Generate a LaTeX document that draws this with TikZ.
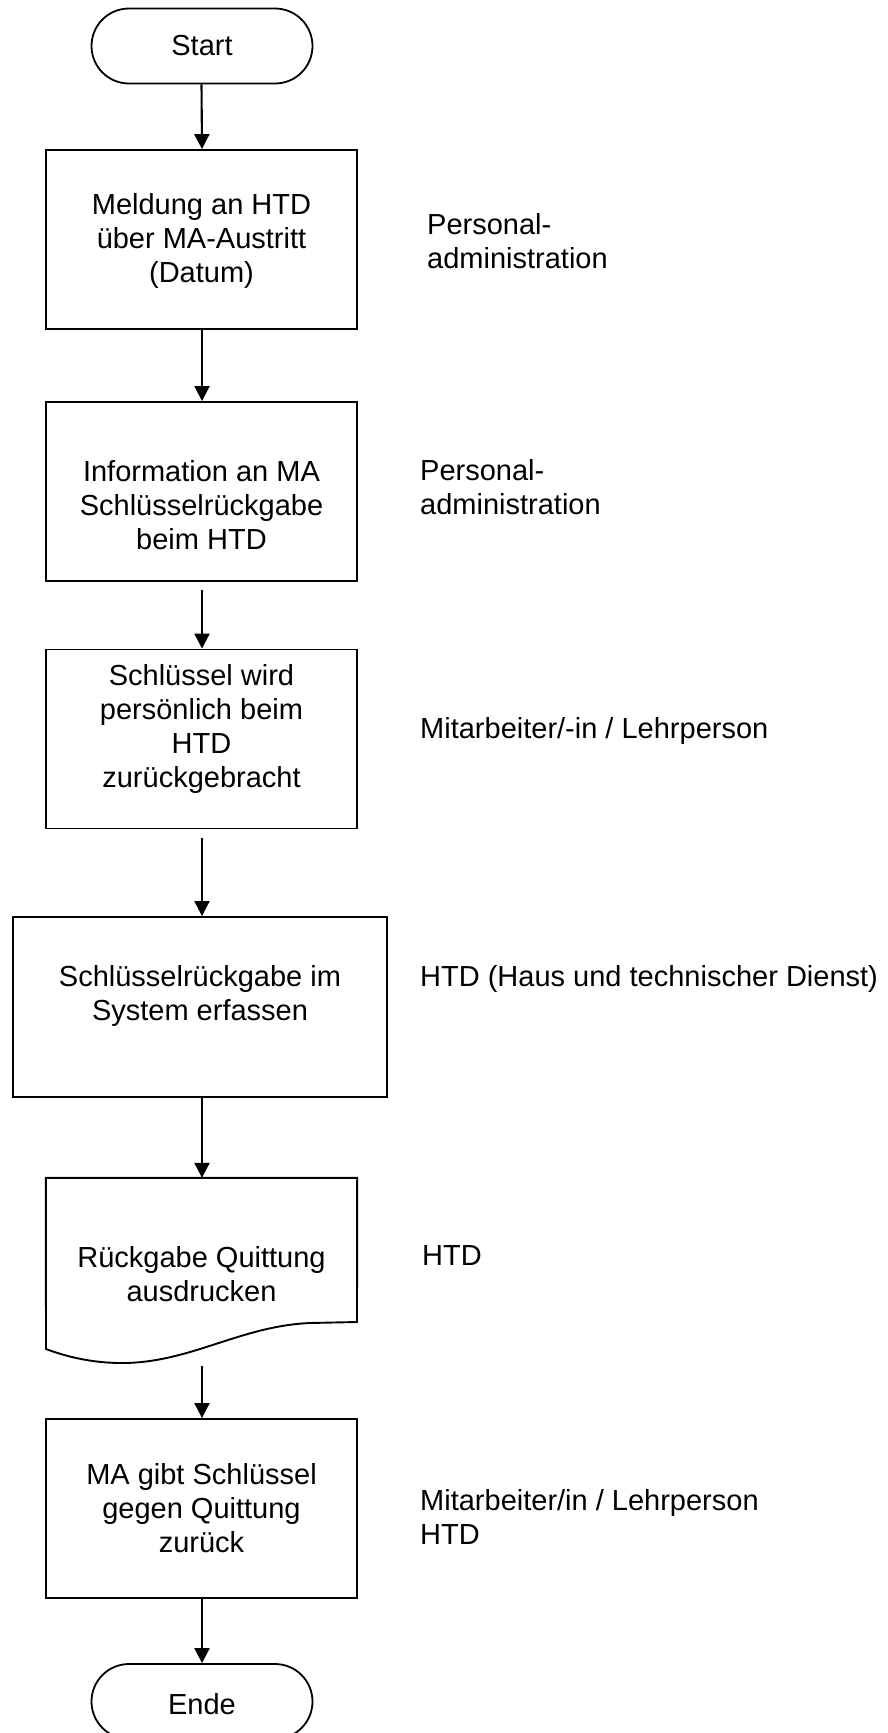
\documentclass[tikz,border=0pt]{standalone}
\usepackage{fontspec}
\setmainfont{Liberation Sans}
\usetikzlibrary{arrows.meta,shapes.misc}
\begin{document}
\begin{tikzpicture}[x=1pt,y=-1pt,
  every node/.style={font=\fontsize{29}{34}\selectfont, inner sep=0pt},
  term/.style={draw, line width=1.8pt, rounded rectangle, minimum width=221pt, minimum height=75pt},
  box/.style={draw, line width=1.9pt, minimum width=311pt, minimum height=179pt},
  txt/.style={align=center},
  lbl/.style={align=left, anchor=west},
  arr/.style={line width=2.1pt, -{Triangle[length=15pt,width=15pt]}}
]
\useasboundingbox (0,0) rectangle (887,1733);
\fill[white] (0,0) rectangle (887,1733);

\node[term] (start) at (202,46) {};
\node (tstart) at (202,46) {Start};

\node[box] (b1) at (201.5,239.5) {};
\node[txt] (t1) at (201.5,241) {Meldung an HTD\\über MA-Austritt\\(Datum)};

\node[box] (b2) at (201.5,491.5) {};
\node[txt] (t2) at (201.5,505) {Information an MA\\Schlüsselrückgabe\\beim HTD};

\node[box] (b3) at (201.5,739) {};
\node[txt] (t3) at (201.5,729) {Schlüssel wird\\persönlich beim\\HTD\\zurückgebracht};

\node[box, minimum width=374pt, minimum height=180pt] (b4) at (200,1007) {};
\node[txt] (t4) at (200,996) {Schlüsselrückgabe im\\System erfassen};

\node[minimum width=311pt, minimum height=182pt] (b5) at (201.5,1269) {};
\draw[line width=1.9pt] (b5.north west) -- (b5.north east) -- (357,1322) -- (310,1323)
  .. controls (240,1326) and (190,1363) .. (122,1363)
  .. controls (95,1363) and (70,1358) .. (46,1349) -- cycle;
\node[txt] (t5) at (201.5,1274) {Rückgabe Quittung\\ausdrucken};

\node[box] (b6) at (201.5,1508.5) {};
\node[txt] (t6) at (201.5,1508) {MA gibt Schlüssel\\gegen Quittung\\zurück};

\node[term] (ende) at (202,1701.5) {};
\node (tende) at (202,1704) {Ende};

\node[lbl] (l1) at (427,241) {Personal-\\administration};
\node[lbl] (l2) at (420,487) {Personal-\\administration};
\node[lbl] (l3) at (420,731) {Mitarbeiter/-in / Lehrperson};
\node[lbl] (l4) at (420,979) {HTD (Haus und technischer Dienst)};
\node[lbl] (l5) at (422,1256) {HTD};
\node[lbl] (l6) at (420,1517) {Mitarbeiter/in / Lehrperson\\HTD};

\draw[arr] (start.south -| b1.north) -- (b1.north -| start.south);
\draw[arr] (b1.south -| start.south) -- (b2.north -| start.south);
\draw[arr, shorten <=8pt] (b2.south -| start.south) -- (b3.north -| start.south);
\draw[arr, shorten <=9pt] (b3.south -| start.south) -- (b4.north -| start.south);
\draw[arr] (b4.south -| start.south) -- (b5.north -| start.south);
\draw[arr, shorten <=6pt] (b5.south -| start.south) -- (b6.north -| start.south);
\draw[arr] (b6.south -| start.south) -- (ende.north);
\end{tikzpicture}
\end{document}
